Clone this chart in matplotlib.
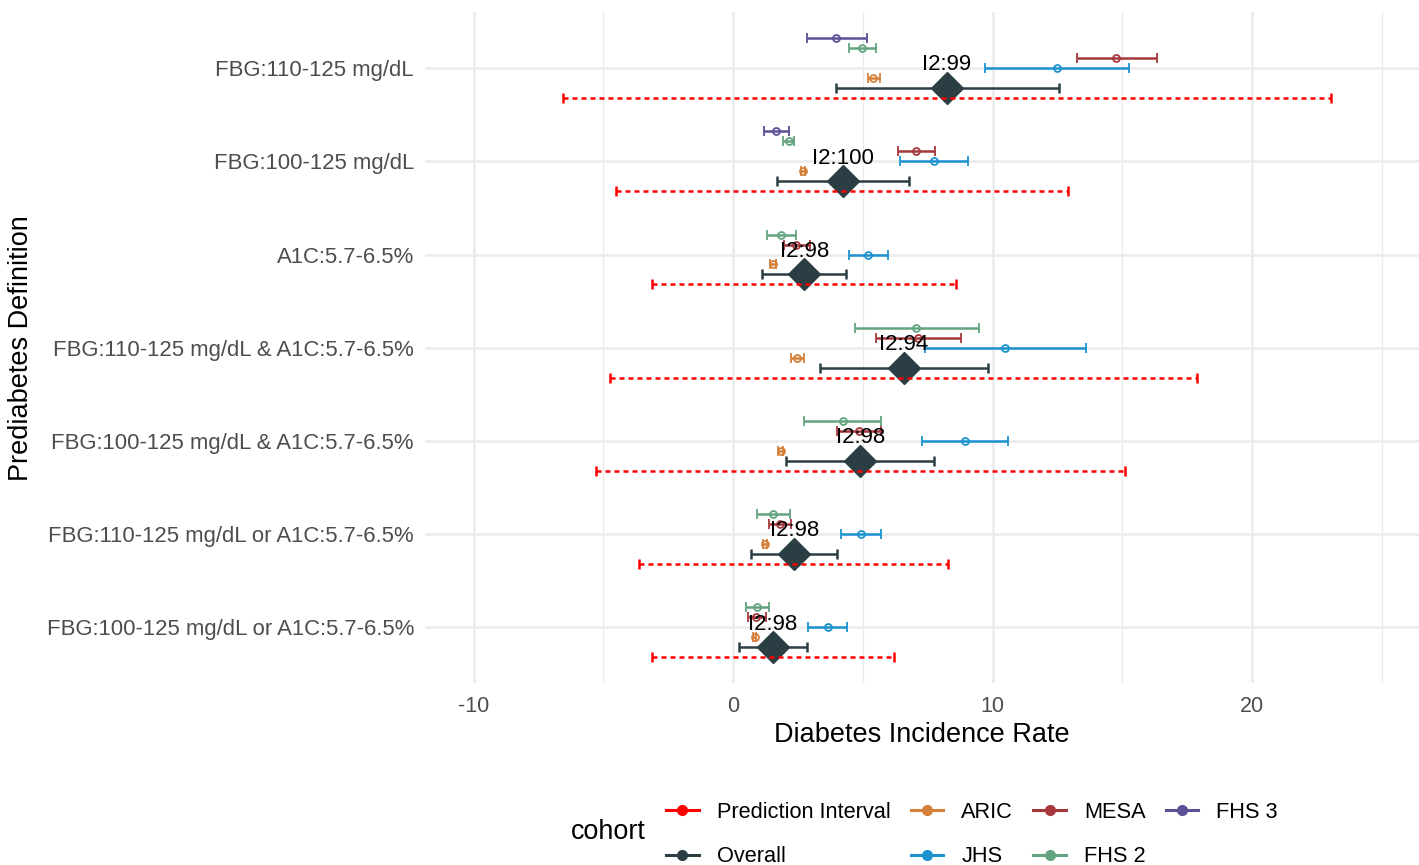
import numpy as np
import matplotlib.pyplot as plt
from matplotlib.lines import Line2D

plt.rcParams['font.family'] = ['Liberation Sans', 'DejaVu Sans']

categories = ['FBG:110-125 mg/dL', 'FBG:100-125 mg/dL', 'A1C:5.7-6.5%',
              'FBG:110-125 mg/dL & A1C:5.7-6.5%', 'FBG:100-125 mg/dL & A1C:5.7-6.5%',
              'FBG:110-125 mg/dL or A1C:5.7-6.5%', 'FBG:100-125 mg/dL or A1C:5.7-6.5%']
nan = np.nan

# estimate, lower, upper per cohort (one value per category, top to bottom)
fhs3_est = [3.98, 1.64, nan, nan, nan, nan, nan]
fhs3_lo = [2.85, 1.19, nan, nan, nan, nan, nan]
fhs3_hi = [5.15, 2.14, nan, nan, nan, nan, nan]

fhs2_est = [4.98, 2.14, 1.84, 7.05, 4.22, 1.53, 0.93]
fhs2_lo = [4.46, 1.94, 1.29, 4.71, 2.74, 0.93, 0.48]
fhs2_hi = [5.50, 2.34, 2.44, 9.47, 5.71, 2.18, 1.37]

mesa_est = [14.76, 7.05, 2.44, 7.13, 4.86, 1.80, 0.87]
mesa_lo = [13.24, 6.34, 1.96, 5.51, 4.02, 1.39, 0.59]
mesa_hi = [16.33, 7.80, 2.95, 8.80, 5.71, 2.24, 1.27]

jhs_est = [12.47, 7.73, 5.21, 10.48, 8.95, 4.93, 3.66]
jhs_lo = [9.71, 6.44, 4.46, 7.39, 7.29, 4.16, 2.89]
jhs_hi = [15.27, 9.05, 5.98, 13.61, 10.58, 5.71, 4.40]

aric_est = [5.41, 2.70, 1.53, 2.48, 1.84, 1.23, 0.83]
aric_lo = [5.20, 2.62, 1.42, 2.24, 1.74, 1.15, 0.76]
aric_hi = [5.67, 2.78, 1.64, 2.74, 1.94, 1.31, 0.90]

overall_est = [8.24, 4.22, 2.74, 6.58, 4.90, 2.36, 1.53]
overall_lo = [3.96, 1.68, 1.13, 3.35, 2.04, 0.71, 0.22]
overall_hi = [12.54, 6.78, 4.36, 9.81, 7.75, 4.02, 2.85]

pi_lo = [-6.54, -4.52, -3.11, -4.76, -5.29, -3.61, -3.11]
pi_hi = [23.04, 12.90, 8.60, 17.89, 15.12, 8.30, 6.22]

i2_labels = ['I2:99', 'I2:100', 'I2:98', 'I2:94', 'I2:98', 'I2:98', 'I2:98']

col_pi = '#FF0000'
col_overall = '#2B3E44'
col_aric = '#D5803A'
col_jhs = '#1C93D1'
col_mesa = '#A6383C'
col_fhs2 = '#62A47F'
col_fhs3 = '#5B4F95'

fig = plt.figure(figsize=(14.19, 8.65), dpi=100)
ax = fig.add_axes([0.2995, 0.21, 0.7005, 0.776])

y = np.arange(len(categories))
d = 0.75 / 7

cohorts = [(fhs3_est, fhs3_lo, fhs3_hi, col_fhs3, -3),
           (fhs2_est, fhs2_lo, fhs2_hi, col_fhs2, -2),
           (mesa_est, mesa_lo, mesa_hi, col_mesa, -1),
           (jhs_est, jhs_lo, jhs_hi, col_jhs, 0),
           (aric_est, aric_lo, aric_hi, col_aric, 1)]

for est, lo, hi, c, k in cohorts:
    est = np.array(est)
    err = [est - np.array(lo), np.array(hi) - est]
    ax.errorbar(est, y + k * d, xerr=err, fmt='o', color=c, ms=5, mfc='none',
                mew=1.3, elinewidth=1.8, capsize=3.5, capthick=1.8, zorder=3)

# overall
oe = np.array(overall_est)
ax.errorbar(oe, y + 2 * d, xerr=[oe - np.array(overall_lo), np.array(overall_hi) - oe],
            fmt='none', ecolor=col_overall, elinewidth=1.8, capsize=3.5, capthick=1.8, zorder=3)
ax.plot(oe, y + 2 * d, 'D', color=col_overall, ms=16, zorder=4, linestyle='none')

# prediction interval
plo = np.array(pi_lo)
phi = np.array(pi_hi)
mid = (plo + phi) / 2
eb = ax.errorbar(mid, y + 3 * d, xerr=[mid - plo, phi - mid], fmt='none', ecolor=col_pi,
                 elinewidth=1.8, capsize=3.5, capthick=1.8, zorder=5)
eb[2][0].set_linestyle((0, (2.0, 1.6)))

for i in range(len(categories)):
    ax.text(oe[i], y[i] + 2 * d - 0.19, i2_labels[i], ha='center', va='baseline',
            fontsize=16, color='black', zorder=6)

ax.set_xlim(-11.87, 26.43)
ax.set_ylim(6.6, -0.6)
ax.set_yticks(y)
ax.set_yticklabels(categories)
ax.set_xticks([-10, 0, 10, 20])
ax.set_xticklabels(['-10', '0', '10', '20'])
ax.set_xticks([-5, 5, 15, 25], minor=True)
ax.tick_params(axis='both', which='both', length=0, labelsize=15.5, labelcolor='#4D4D4D')
ax.tick_params(axis='y', labelsize=15.9, pad=8)
ax.tick_params(axis='x', pad=9)
ax.grid(True, which='major', color='#EBEBEB', lw=1.8, zorder=0)
ax.grid(True, which='minor', axis='x', color='#EBEBEB', lw=1.0, zorder=0)
ax.set_axisbelow(True)
for s in ax.spines.values():
    s.set_visible(False)

ax.set_xlabel('Diabetes Incidence Rate', fontsize=19.5, labelpad=4)
ax.set_ylabel('Prediabetes Definition', fontsize=19.5)
ax.yaxis.set_label_coords(-0.393, 0.5)

handles = [Line2D([], [], color=c, lw=2.2, marker='o', ms=7)
           for c in [col_pi, col_overall, col_aric, col_jhs, col_mesa, col_fhs2, col_fhs3]]
names = ['Prediction Interval', 'Overall', 'ARIC', 'JHS', 'MESA', 'FHS 2', 'FHS 3']
fig.legend(handles, names, ncol=4, loc='center left', bbox_to_anchor=(0.457, 0.035),
           frameon=False, fontsize=15.7, handlelength=1.5, columnspacing=0.92,
           handletextpad=0.83, labelspacing=1.07, borderpad=0.3)
fig.text(0.402, 0.0376, 'cohort', fontsize=19.4, va='center', ha='left')

fig.savefig('out.png', dpi=100)
